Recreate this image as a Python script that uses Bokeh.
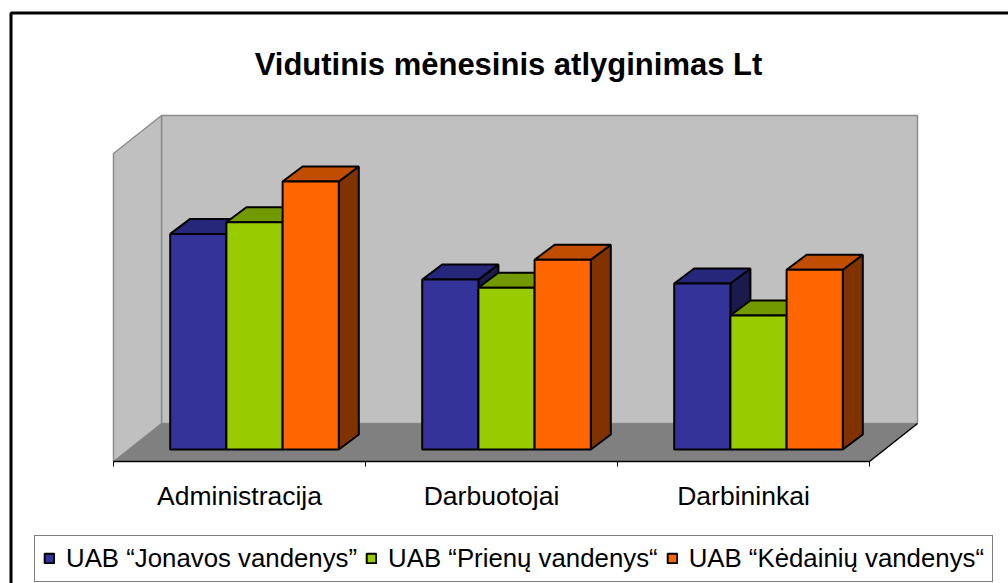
from bokeh.plotting import figure
from bokeh.models import Range1d, Legend, LegendItem
from bokeh.core.properties import value
from bokeh.embed import file_html
from bokeh.resources import INLINE

# ---------------- data ----------------
title = "Vidutinis mėnesinis atlyginimas Lt"
categories = ["Administracija", "Darbuotojai", "Darbininkai"]
series_names = ["UAB “Jonavos vandenys”", "UAB “Prienų vandenys“", "UAB “Kėdainių vandenys“"]
jonava = [1400, 1104, 1078]
prienai = [1476, 1050, 870]
kedainiai = [1740, 1232, 1167]
axis_max = 2000

series_values = [jonava, prienai, kedainiai]

# ---------------- styles / geometry ----------------
FONT = "Liberation Sans"
front_colors = ["#333399", "#99CC00", "#FF6600"]
top_colors = ["#26267A", "#739900", "#C04D00"]
side_colors = ["#1A1A4D", "#4D6600", "#803300"]

CW, CH = 1008, 583
X0, Y0 = 113, 461              # canvas pixel of the floor's front-left corner
PX_CAT = 252.0                 # pixels per category
PX_LT = 308.0 / axis_max       # pixels per Lt
DX, DY = 48 / PX_CAT, 38 / PX_LT        # full floor depth
OFF_X, OFF_Y = 15 / PX_CAT, 12 / PX_LT  # bar front plane offset
BDX, BDY = 20 / PX_CAT, 15 / PX_LT      # bar depth
W = 56.2 / PX_CAT
GAP = (1 - 3 * W) / 2
n = len(categories)


def px_x(px):
    return (px - X0) / PX_CAT


def px_y(py):
    return (Y0 - py) / PX_LT


p = figure(width=CW, height=CH,
           x_range=Range1d(px_x(0), px_x(CW)), y_range=Range1d(px_y(CH), px_y(0)),
           output_backend="svg", toolbar_location=None,
           x_axis_location=None, y_axis_location=None,
           min_border=0, min_border_left=0, min_border_right=0,
           min_border_top=0, min_border_bottom=0)
p.outline_line_color = None
p.background_fill_color = "white"
p.border_fill_color = "white"
p.grid.visible = False

# outer chart border (left and top visible)
p.line([px_x(10.5), px_x(10.5), px_x(CW + 20)], [px_y(CH + 20), px_y(12.5), px_y(12.5)],
       line_color="black", line_width=3)

# walls and floor
p.patch([DX, DX + n, DX + n, DX], [DY, DY, DY + axis_max, DY + axis_max],
        fill_color="#C0C0C0", line_color="#8C8C8C", line_width=1.5)
p.patch([0, 0, DX, DX], [0, axis_max, axis_max + DY, DY],
        fill_color="#C0C0C0", line_color="#8C8C8C", line_width=1.5)
p.patch([0, n, n + DX, DX], [0, 0, DY, DY], fill_color="#808080", line_color=None)
p.line([0, n, n + DX], [0, 0, DY], line_color="black", line_width=1.5)

# category ticks and labels
tick_len = 5 / PX_LT
p.segment(x0=list(range(n + 1)), y0=[0] * (n + 1), x1=list(range(n + 1)), y1=[-tick_len] * (n + 1),
          line_color="black", line_width=1)
p.text(x=[i + 0.5 for i in range(n)], y=[px_y(495)] * n, text=categories,
       text_align="center", text_baseline="alphabetic", text_font=value(FONT),
       text_font_size="26.5px", text_color="black")

# bars
fronts, tops, sides = [], [], []
for s, vals in enumerate(series_values):
    fx, fy, tx, ty, sx, sy = [], [], [], [], [], []
    for i, v in enumerate(vals):
        xl = i + OFF_X + GAP + s * W
        xr = xl + W
        b = OFF_Y
        h = OFF_Y + v
        fx.append([xl, xr, xr, xl]); fy.append([b, b, h, h])
        tx.append([xl, xr, xr + BDX, xl + BDX]); ty.append([h, h, h + BDY, h + BDY])
        sx.append([xr, xr + BDX, xr + BDX, xr]); sy.append([b, b + BDY, h + BDY, h])
    fronts.append((fx, fy)); tops.append((tx, ty)); sides.append((sx, sy))

for s in range(3):
    p.patches(sides[s][0], sides[s][1], fill_color=side_colors[s], line_color="black", line_width=2)
for s in range(3):
    p.patches(tops[s][0], tops[s][1], fill_color=top_colors[s], line_color="black", line_width=2)
front_renderers = []
for s in range(3):
    r = p.patches(fronts[s][0], fronts[s][1], fill_color=front_colors[s], line_color="black", line_width=2)
    front_renderers.append(r)

# title
p.text(x=[px_x(508)], y=[px_y(64)], text=[title], text_align="center", text_baseline="alphabetic",
       text_font=value(FONT), text_font_size="31px", text_font_style="bold", text_color="black")

# legend (location = bottom-left corner in canvas pixels)
legend = Legend(items=[LegendItem(label=series_names[s], renderers=[front_renderers[s]]) for s in range(3)],
                orientation="horizontal", location=(34, 1.5),
                glyph_width=12, glyph_height=12, label_standoff=11, spacing=8, padding=8, margin=0,
                label_text_font=FONT, label_text_font_size="25.8px", label_text_color="black",
                border_line_color="black", border_line_width=1, background_fill_color="white",
                background_fill_alpha=1)
p.add_layout(legend)

open("out.html", "w").write(file_html(p, INLINE))
